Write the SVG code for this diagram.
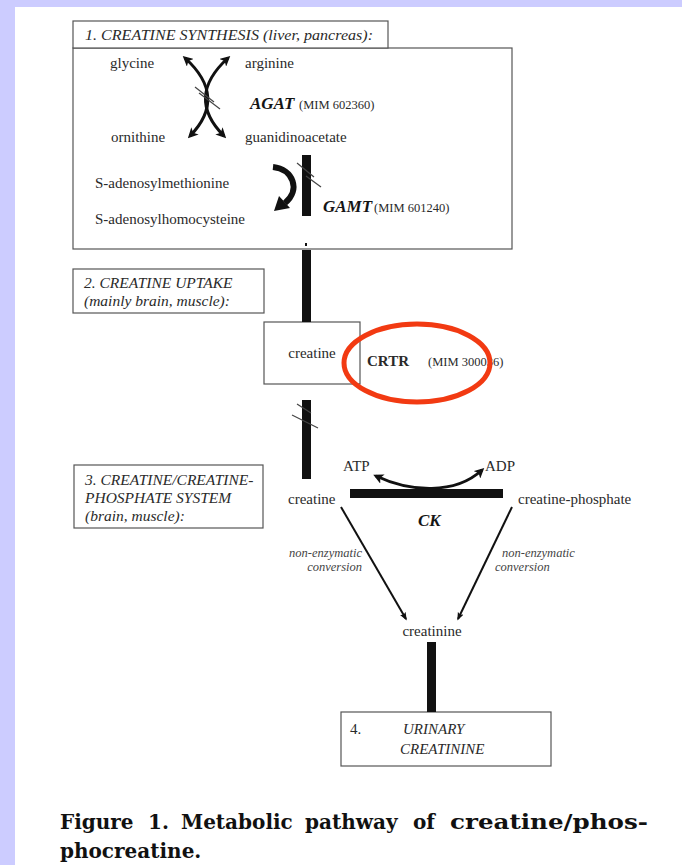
<svg xmlns="http://www.w3.org/2000/svg" width="682" height="865" viewBox="0 0 682 865">
<defs>
<marker id="ah" viewBox="0 0 10 10" refX="7" refY="5" markerWidth="3.4" markerHeight="3.4" orient="auto-start-reverse" markerUnits="strokeWidth"><path d="M0,0 L10,5 L0,10 L2.5,5 z" fill="#111"/></marker>
<marker id="ahs" viewBox="0 0 10 10" refX="8" refY="5" markerWidth="4" markerHeight="4" orient="auto" markerUnits="strokeWidth"><path d="M0,1 L10,5 L0,9 L2,5 z" fill="#111"/></marker>
</defs>
<style>
.t{font-family:"Liberation Serif","Times New Roman",serif;fill:#2a2a2a;font-size:15px}
.h{font-style:italic;font-size:15.5px}
.e{font-weight:bold;font-style:italic;font-size:17px;fill:#151515}
.mim{font-size:12.5px}
.ne{font-style:italic;font-size:12.5px;fill:#444}
.box{fill:#fff;stroke:#555;stroke-width:1.2}
.bar{fill:#111}
.hash{stroke:#444;stroke-width:1.2;fill:none}
.arw{fill:none;stroke:#111}
.cap{font-family:"DejaVu Serif","Liberation Serif",serif;font-weight:bold;font-size:20px;fill:#111}
</style>
<rect x="0" y="0" width="682" height="865" fill="#fff"/>
<rect x="0" y="0" width="682" height="7" fill="#ccccff"/>
<rect x="0" y="0" width="15" height="865" fill="#ccccff"/>

<g id="synthesis">
<rect class="box" x="73" y="48" width="439" height="201"/>
<rect class="box" x="73" y="21" width="315" height="27"/>
<text class="t h" x="85" y="40" textLength="288" lengthAdjust="spacingAndGlyphs">1. CREATINE SYNTHESIS (liver, pancreas):</text>
<text class="t" x="110" y="68">glycine</text>
<text class="t" x="245" y="68">arginine</text>
<text class="t" x="111" y="142">ornithine</text>
<text class="t" x="245" y="142">guanidinoacetate</text>
<text class="t" x="95" y="188">S-adenosylmethionine</text>
<text class="t" x="95" y="224">S-adenosylhomocysteine</text>
</g>

<g id="agat">
<path class="arw" stroke-width="3" d="M185,58 Q228,97 190,136" marker-start="url(#ah)" marker-end="url(#ah)"/>
<path class="arw" stroke-width="3" d="M228,58 Q185,97 224,136" marker-start="url(#ah)" marker-end="url(#ah)"/>
<line class="hash" x1="195" y1="87" x2="214" y2="102"/>
<line class="hash" x1="199" y1="93" x2="220" y2="109"/>
<text class="t e" x="250" y="109">AGAT</text>
<text class="t mim" x="299" y="109">(MIM 602360)</text>
</g>

<g id="gamt">
<rect class="bar" x="302" y="155" width="9" height="61"/>
<path d="M273,167 C293,169 301,190 285,203" fill="none" stroke="#111" stroke-width="6"/>
<polygon points="274,211 290,208 279,196" fill="#111"/>
<line class="hash" x1="297" y1="163" x2="314" y2="177"/>
<line class="hash" x1="306" y1="176" x2="321" y2="187"/>
<text class="t e" x="323" y="212">GAMT</text>
<text class="t mim" x="374" y="212">(MIM 601240)</text>
</g>

<g id="uptake">
<rect class="box" x="73" y="269" width="191" height="44"/>
<text class="t h" x="84" y="288">2. CREATINE UPTAKE</text>
<text class="t h" x="84" y="306">(mainly brain, muscle):</text>
</g>

<g id="creatine-box">
<rect class="box" x="264" y="322" width="96" height="62"/>
<text class="t" x="312" y="358" text-anchor="middle">creatine</text>
</g>

<g id="crtr">
<text class="t" x="367" y="366" font-weight="bold" font-size="17" fill="#151515">CRTR</text>
<text class="t mim" x="428" y="366">(MIM 300036)</text>
<ellipse cx="417" cy="363" rx="73" ry="39" fill="none" stroke="#f23a12" stroke-width="5"/>
</g>

<g id="system">
<rect class="box" x="74" y="465" width="189" height="63"/>
<text class="t h" x="85" y="485">3. CREATINE/CREATINE-</text>
<text class="t h" x="85" y="503">PHOSPHATE SYSTEM</text>
<text class="t h" x="85" y="521">(brain, muscle):</text>
</g>

<g id="ck">
<text class="t" x="343" y="471">ATP</text>
<text class="t" x="485" y="471">ADP</text>
<path class="arw" stroke-width="3" d="M376,476 C410,492 455,495 482,470" marker-start="url(#ah)" marker-end="url(#ah)"/>
<rect class="bar" x="350" y="489" width="153" height="9"/>
<text class="t e" x="418" y="526">CK</text>
<text class="t" x="288" y="504">creatine</text>
<text class="t" x="518" y="504">creatine-phosphate</text>
</g>

<g id="creatinine">
<text class="t" x="432" y="636" text-anchor="middle">creatinine</text>
</g>

<g id="urinary">
<rect class="box" x="341" y="712" width="210" height="54"/>
<text class="t" x="350" y="734" font-size="17">4.</text>
<text class="t" x="403" y="734" font-size="17.5" font-style="italic">URINARY</text>
<text class="t" x="400" y="754" font-size="17.5" font-style="italic">CREATININE</text>
</g>

<g id="connectors">
<rect class="bar" x="305" y="243" width="2" height="3"/>
<rect class="bar" x="302" y="250" width="9" height="72"/>
<rect class="bar" x="302" y="400" width="9" height="79"/>
<line class="hash" x1="297" y1="404" x2="311" y2="413"/>
<line class="hash" x1="292" y1="415" x2="318" y2="428"/>
<line class="arw" stroke-width="2" x1="341" y1="507" x2="406" y2="619" marker-end="url(#ahs)"/>
<line class="arw" stroke-width="2" x1="512" y1="507" x2="458" y2="619" marker-end="url(#ahs)"/>
<text class="t ne" x="362" y="557" text-anchor="end">non-enzymatic</text>
<text class="t ne" x="362" y="571" text-anchor="end">conversion</text>
<text class="t ne" x="502" y="557">non-enzymatic</text>
<text class="t ne" x="495" y="571">conversion</text>
<rect class="bar" x="427" y="642" width="9" height="70"/>
</g>

<g id="caption">
<text class="cap" x="60" y="829">Figure</text>
<text class="cap" x="148" y="829">1.</text>
<text class="cap" x="181" y="829">Metabolic</text>
<text class="cap" x="305" y="829">pathway</text>
<text class="cap" x="413" y="829">of</text>
<text class="cap" x="450" y="829" textLength="198" lengthAdjust="spacingAndGlyphs">creatine/phos-</text>
<text class="cap" x="60" y="858">phocreatine.</text>
</g>
</svg>
